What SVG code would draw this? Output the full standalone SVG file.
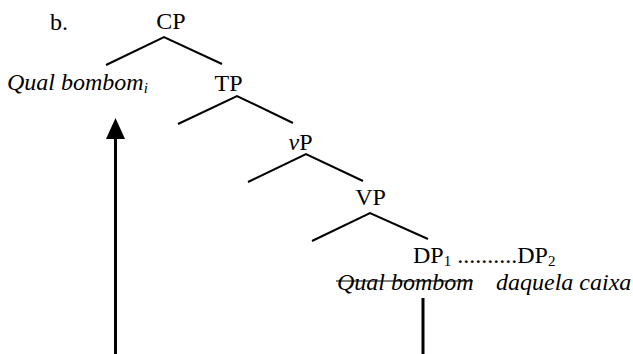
<svg xmlns="http://www.w3.org/2000/svg" width="633" height="354" viewBox="0 0 633 354">
<style>
text{font-family:"Liberation Serif","Times New Roman",serif;font-size:24px;fill:#000}
.it{font-style:italic}
.sub{font-size:15px}
.edge{stroke:#000;stroke-width:2;fill:none}
.mv{stroke:#000;stroke-width:3;fill:none}
</style>
<rect width="633" height="354" fill="#fff"/>
<g id="label-b"><text x="50" y="30">b.</text></g>
<g id="CP"><text x="171" y="29" text-anchor="middle">CP</text></g>
<g id="QualBombom-i"><text x="7" y="90" class="it">Qual bombom<tspan class="sub" dy="3">i</tspan></text></g>
<g id="TP"><text x="228.5" y="91" text-anchor="middle">TP</text></g>
<g id="vP"><text x="300.5" y="150" text-anchor="middle"><tspan class="it">v</tspan>P</text></g>
<g id="VP"><text x="370.5" y="205" text-anchor="middle">VP</text></g>
<g id="DP"><text x="413" y="263">DP<tspan class="sub" dy="3">1</tspan><tspan dy="-3"> ..........DP</tspan><tspan class="sub" dy="3">2</tspan></text></g>
<g id="QualBombom-copy"><text x="337" y="290" class="it">Qual bombom</text><line x1="336" y1="281" x2="473" y2="281" stroke="#000" stroke-width="1.2"/></g>
<g id="daquela-caixa"><text x="496" y="290" class="it">daquela caixa</text></g>
<g id="connectors">
<path class="edge" d="M106,65 L164,37 L222,64"/>
<path class="edge" d="M178,124 L237,96 L293,123"/>
<path class="edge" d="M248,182 L306,154 L363,181"/>
<path class="edge" d="M312,241 L370,213 L428,239"/>
<line class="mv" x1="423" y1="298" x2="423" y2="354"/>
<line class="mv" x1="115.5" y1="137" x2="115.5" y2="354"/>
<polygon points="115.5,118 106,139 125,139" fill="#000"/>
</g>
</svg>
